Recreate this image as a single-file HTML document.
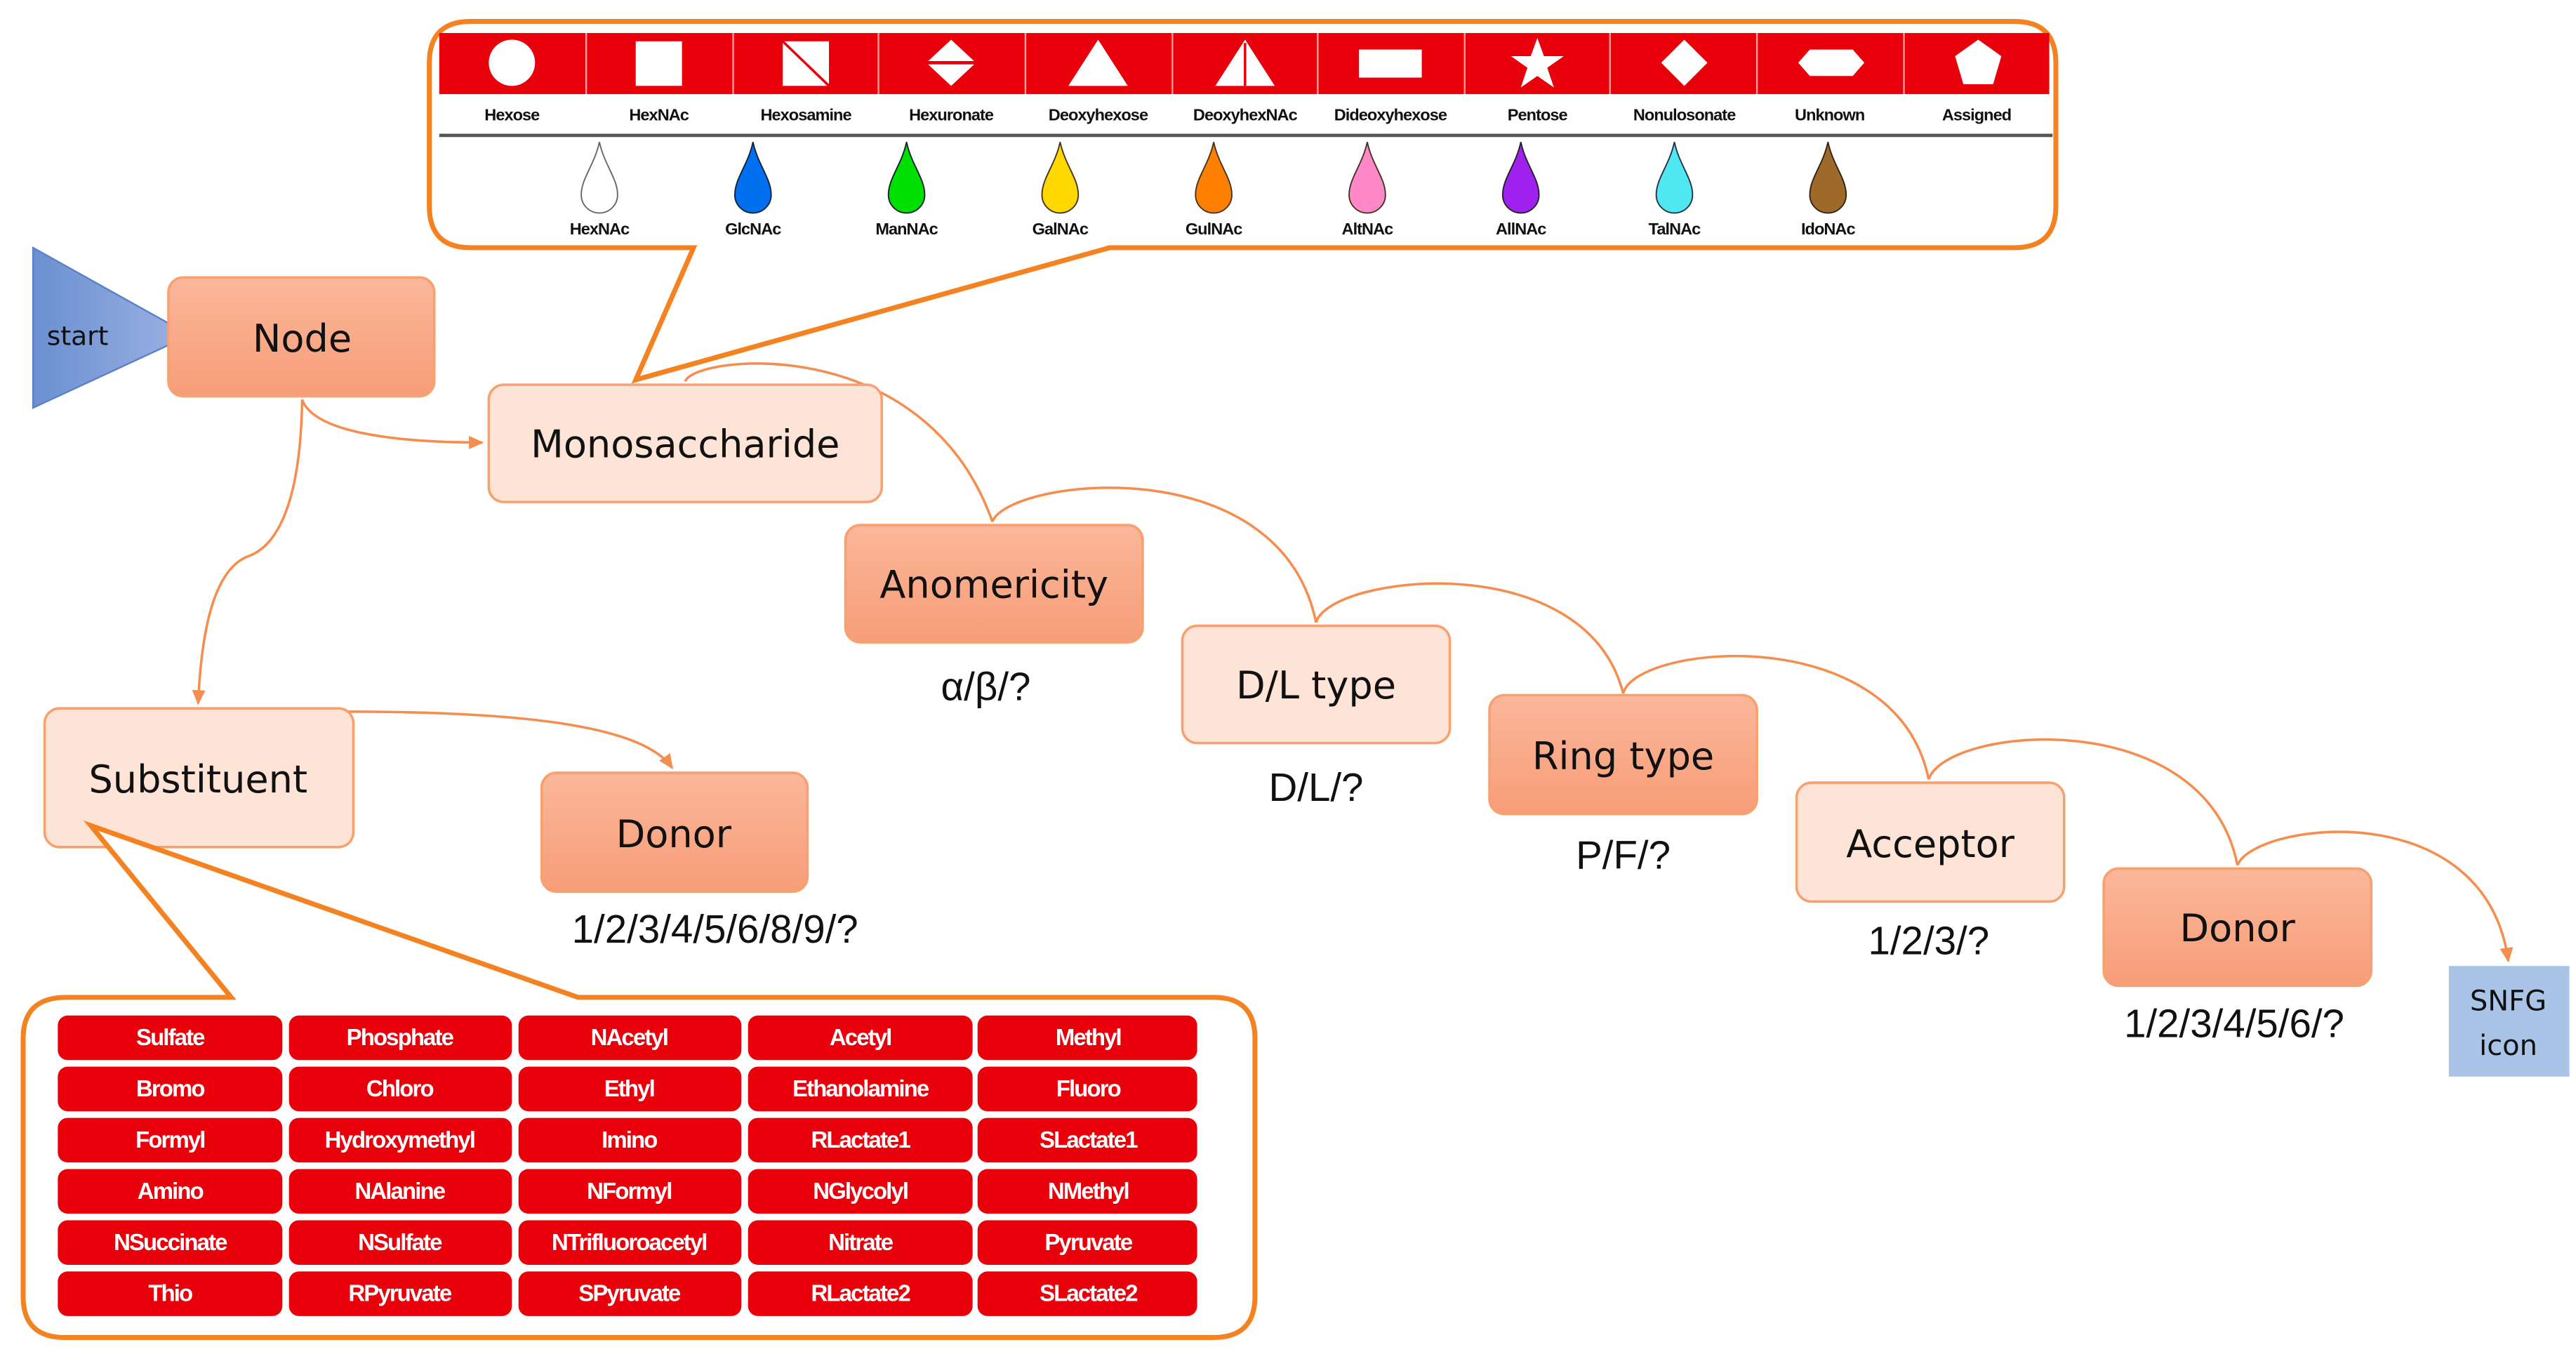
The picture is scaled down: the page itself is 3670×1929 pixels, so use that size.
<!DOCTYPE html>
<html><head><meta charset="utf-8"><style>
html,body{margin:0;padding:0;background:#fff;width:3670px;height:1929px;overflow:hidden}
svg{display:block}
.hl{font-family:"Liberation Sans",sans-serif;font-weight:bold;font-size:10px;fill:#111;text-anchor:middle;letter-spacing:-0.4px}
.gt{font-family:"Liberation Sans",sans-serif;font-weight:bold;font-size:14px;fill:#fff;text-anchor:middle;letter-spacing:-0.8px}
.nt{font-family:"DejaVu Sans","Liberation Sans",sans-serif;font-size:23px;fill:#111;text-anchor:middle}
.lt{font-family:"Liberation Sans","DejaVu Sans",sans-serif;font-size:24px;fill:#111;text-anchor:middle}
.cn{fill:none;stroke:#f58d4e;stroke-width:1.5}
</style></head><body>
<svg width="3670" height="1929" viewBox="0 0 1560 820" preserveAspectRatio="none" xmlns="http://www.w3.org/2000/svg">
<defs>
<linearGradient id="dk" x1="0" y1="0" x2="0" y2="1"><stop offset="0" stop-color="#fbb79a"/><stop offset="1" stop-color="#f79d78"/></linearGradient>
<linearGradient id="bl" x1="0" y1="0" x2="1" y2="0"><stop offset="0" stop-color="#6b8fd0"/><stop offset="1" stop-color="#9bb3e3"/></linearGradient>
<marker id="ar" markerWidth="10" markerHeight="10" refX="8" refY="5" orient="auto" markerUnits="userSpaceOnUse"><path d="M0,1 L9,5 L0,9 Z" fill="#f58d4e"/></marker>
</defs>

<!-- top callout -->
<path d="M285,13 H1220 Q1245,13 1245,38 V125 Q1245,150 1220,150 H672 L385,230 L420,150 H285 Q260,150 260,125 V38 Q260,13 285,13 Z" fill="#fff" stroke="#f58220" stroke-width="3"/>
<rect x="266" y="20" width="975" height="37" fill="#e8000b"/>
<g stroke="#f5a0a0" stroke-width="1">
<line x1="355" y1="20" x2="355" y2="57"/><line x1="444" y1="20" x2="444" y2="57"/><line x1="532" y1="20" x2="532" y2="57"/><line x1="621" y1="20" x2="621" y2="57"/><line x1="710" y1="20" x2="710" y2="57"/><line x1="798" y1="20" x2="798" y2="57"/><line x1="887" y1="20" x2="887" y2="57"/><line x1="975" y1="20" x2="975" y2="57"/><line x1="1064" y1="20" x2="1064" y2="57"/><line x1="1153" y1="20" x2="1153" y2="57"/>
</g>
<g fill="#fff">
<circle cx="310" cy="38" r="14"/>
<rect x="385" y="25" width="28" height="27"/>
<rect x="474" y="25" width="28" height="27"/><line x1="474" y1="25" x2="502" y2="52" stroke="#e8000b" stroke-width="1.5"/>
<path d="M576,24 L591,38 L576,52 L561,38 Z"/><line x1="560" y1="38" x2="592" y2="38" stroke="#e8000b" stroke-width="2"/>
<path d="M665,24 L683,52 L647,52 Z"/>
<path d="M754,24 L772,52 L736,52 Z"/><line x1="754" y1="26" x2="754" y2="52" stroke="#e8000b" stroke-width="1.5"/>
<rect x="823" y="30" width="38" height="17"/>
<path d="M931,23 L935,34 L947,34 L937,41 L941,53 L931,46 L921,53 L925,41 L915,34 L927,34 Z"/>
<path d="M1020,24 L1034,38 L1020,52 L1006,38 Z"/>
<path d="M1096,30 H1122 L1129,38 L1122,46 H1096 L1089,38 Z"/>
<path d="M1198,24 L1212,34 L1207,51 L1189,51 L1184,34 Z"/>
</g>
<g class="hl">
<text x="310" y="73">Hexose</text><text x="399" y="73">HexNAc</text><text x="488" y="73">Hexosamine</text><text x="576" y="73">Hexuronate</text><text x="665" y="73">Deoxyhexose</text><text x="754" y="73">DeoxyhexNAc</text><text x="842" y="73">Dideoxyhexose</text><text x="931" y="73">Pentose</text><text x="1020" y="73">Nonulosonate</text><text x="1108" y="73">Unknown</text><text x="1197" y="73">Assigned</text>
</g>
<line x1="266" y1="82" x2="1243" y2="82" stroke="#555" stroke-width="2"/>
<g stroke-width="0.8">
<path d="M363,86 C366,100 374,108 374,118 A11,11 0 0 1 352,118 C352,108 360,100 363,86 Z" fill="#fff" stroke="#666"/>
<path d="M456,86 C459,100 467,108 467,118 A11,11 0 0 1 445,118 C445,108 453,100 456,86 Z" fill="#0070f0" stroke="#123"/>
<path d="M549,86 C552,100 560,108 560,118 A11,11 0 0 1 538,118 C538,108 546,100 549,86 Z" fill="#00e000" stroke="#123"/>
<path d="M642,86 C645,100 653,108 653,118 A11,11 0 0 1 631,118 C631,108 639,100 642,86 Z" fill="#ffd800" stroke="#432"/>
<path d="M735,86 C738,100 746,108 746,118 A11,11 0 0 1 724,118 C724,108 732,100 735,86 Z" fill="#ff7f00" stroke="#432"/>
<path d="M828,86 C831,100 839,108 839,118 A11,11 0 0 1 817,118 C817,108 825,100 828,86 Z" fill="#ff88c8" stroke="#432"/>
<path d="M921,86 C924,100 932,108 932,118 A11,11 0 0 1 910,118 C910,108 918,100 921,86 Z" fill="#a020f0" stroke="#222"/>
<path d="M1014,86 C1017,100 1025,108 1025,118 A11,11 0 0 1 1003,118 C1003,108 1011,100 1014,86 Z" fill="#50e8f0" stroke="#234"/>
<path d="M1107,86 C1110,100 1118,108 1118,118 A11,11 0 0 1 1096,118 C1096,108 1104,100 1107,86 Z" fill="#9e6a2a" stroke="#321"/>
</g>
<g class="hl">
<text x="363" y="142">HexNAc</text><text x="456" y="142">GlcNAc</text><text x="549" y="142">ManNAc</text><text x="642" y="142">GalNAc</text><text x="735" y="142">GulNAc</text><text x="828" y="142">AltNAc</text><text x="921" y="142">AllNAc</text><text x="1014" y="142">TalNAc</text><text x="1107" y="142">IdoNAc</text>
</g>

<!-- connectors -->
<path class="cn" d="M183,242 C190,262 240,268 292,268" marker-end="url(#ar)"/>
<path class="cn" d="M183,242 C182,300 170,330 150,337 C130,345 122,380 120,426" marker-end="url(#ar)"/>
<path class="cn" d="M210,431 C320,431 390,440 407,465" marker-end="url(#ar)"/>
<path class="cn" d="M415,231 C420,215 560,200 601,316"/>
<path class="cn" d="M601,316 C610,290 775,270 797,377"/>
<path class="cn" d="M797,377 C805,348 960,330 983,420"/>
<path class="cn" d="M983,420 C990,390 1148,375 1168,472"/>
<path class="cn" d="M1168,472 C1178,440 1335,425 1355,524"/>
<path class="cn" d="M1355,524 C1365,498 1505,480 1519,582" marker-end="url(#ar)"/>

<!-- start -->
<path d="M20,150 L115,203 L20,247 Z" fill="url(#bl)" stroke="#5a80c8" stroke-width="1"/>
<text x="47" y="209" font-family="DejaVu Sans,Liberation Sans,sans-serif" font-size="16" fill="#111" text-anchor="middle">start</text>

<!-- nodes -->
<g stroke="#f7a070" stroke-width="1.5">
<rect x="102" y="168" width="161" height="72" rx="9" fill="url(#dk)"/>
<rect x="296" y="233" width="238" height="71" rx="9" fill="#fde4d6"/>
<rect x="512" y="318" width="180" height="71" rx="9" fill="url(#dk)"/>
<rect x="716" y="379" width="162" height="71" rx="9" fill="#fde4d6"/>
<rect x="902" y="421" width="162" height="72" rx="9" fill="url(#dk)"/>
<rect x="1088" y="474" width="162" height="72" rx="9" fill="#fde4d6"/>
<rect x="1274" y="526" width="162" height="71" rx="9" fill="url(#dk)"/>
<rect x="27" y="429" width="187" height="84" rx="9" fill="#fde4d6"/>
<rect x="328" y="468" width="161" height="72" rx="9" fill="url(#dk)"/>
</g>
<rect x="1483" y="585" width="73" height="67" fill="#a9c4e6"/>
<g class="nt">
<text x="183" y="213">Node</text>
<text x="415" y="277">Monosaccharide</text>
<text x="602" y="362">Anomericity</text>
<text x="797" y="423">D/L type</text>
<text x="983" y="466">Ring type</text>
<text x="1169" y="519">Acceptor</text>
<text x="1355" y="570">Donor</text>
<text x="120" y="480">Substituent</text>
<text x="408" y="513">Donor</text>
</g>
<text x="1519" y="612" font-family="DejaVu Sans,sans-serif" font-size="17" fill="#111" text-anchor="middle">SNFG</text>
<text x="1519" y="639" font-family="DejaVu Sans,sans-serif" font-size="17" fill="#111" text-anchor="middle">icon</text>
<g class="lt">
<text x="597" y="424">α/β/?</text>
<text x="797" y="485">D/L/?</text>
<text x="983" y="526">P/F/?</text>
<text x="1168" y="578">1/2/3/?</text>
<text x="1353" y="628">1/2/3/4/5/6/?</text>
<text x="433" y="571">1/2/3/4/5/6/8/9/?</text>
</g>

<!-- bottom callout -->
<path d="M40,604 H140 L55,500 L350,604 H735 Q760,604 760,629 V785 Q760,810 735,810 H39 Q14,810 14,785 V629 Q14,604 40,604 Z" fill="#fff" stroke="#f58220" stroke-width="3"/>
<g fill="#e8000b">
<rect x="35" y="615" width="136" height="27" rx="6"/><rect x="175" y="615" width="135" height="27" rx="6"/><rect x="314" y="615" width="135" height="27" rx="6"/><rect x="453" y="615" width="136" height="27" rx="6"/><rect x="592" y="615" width="133" height="27" rx="6"/>
<rect x="35" y="646" width="136" height="27" rx="6"/><rect x="175" y="646" width="135" height="27" rx="6"/><rect x="314" y="646" width="135" height="27" rx="6"/><rect x="453" y="646" width="136" height="27" rx="6"/><rect x="592" y="646" width="133" height="27" rx="6"/>
<rect x="35" y="677" width="136" height="27" rx="6"/><rect x="175" y="677" width="135" height="27" rx="6"/><rect x="314" y="677" width="135" height="27" rx="6"/><rect x="453" y="677" width="136" height="27" rx="6"/><rect x="592" y="677" width="133" height="27" rx="6"/>
<rect x="35" y="708" width="136" height="27" rx="6"/><rect x="175" y="708" width="135" height="27" rx="6"/><rect x="314" y="708" width="135" height="27" rx="6"/><rect x="453" y="708" width="136" height="27" rx="6"/><rect x="592" y="708" width="133" height="27" rx="6"/>
<rect x="35" y="739" width="136" height="27" rx="6"/><rect x="175" y="739" width="135" height="27" rx="6"/><rect x="314" y="739" width="135" height="27" rx="6"/><rect x="453" y="739" width="136" height="27" rx="6"/><rect x="592" y="739" width="133" height="27" rx="6"/>
<rect x="35" y="770" width="136" height="27" rx="6"/><rect x="175" y="770" width="135" height="27" rx="6"/><rect x="314" y="770" width="135" height="27" rx="6"/><rect x="453" y="770" width="136" height="27" rx="6"/><rect x="592" y="770" width="133" height="27" rx="6"/>
</g>
<g class="gt">
<text x="103" y="633">Sulfate</text><text x="242" y="633">Phosphate</text><text x="381" y="633">NAcetyl</text><text x="521" y="633">Acetyl</text><text x="659" y="633">Methyl</text>
<text x="103" y="664">Bromo</text><text x="242" y="664">Chloro</text><text x="381" y="664">Ethyl</text><text x="521" y="664">Ethanolamine</text><text x="659" y="664">Fluoro</text>
<text x="103" y="695">Formyl</text><text x="242" y="695">Hydroxymethyl</text><text x="381" y="695">Imino</text><text x="521" y="695">RLactate1</text><text x="659" y="695">SLactate1</text>
<text x="103" y="726">Amino</text><text x="242" y="726">NAlanine</text><text x="381" y="726">NFormyl</text><text x="521" y="726">NGlycolyl</text><text x="659" y="726">NMethyl</text>
<text x="103" y="757">NSuccinate</text><text x="242" y="757">NSulfate</text><text x="381" y="757">NTrifluoroacetyl</text><text x="521" y="757">Nitrate</text><text x="659" y="757">Pyruvate</text>
<text x="103" y="788">Thio</text><text x="242" y="788">RPyruvate</text><text x="381" y="788">SPyruvate</text><text x="521" y="788">RLactate2</text><text x="659" y="788">SLactate2</text>
</g>
</svg>
</body></html>
